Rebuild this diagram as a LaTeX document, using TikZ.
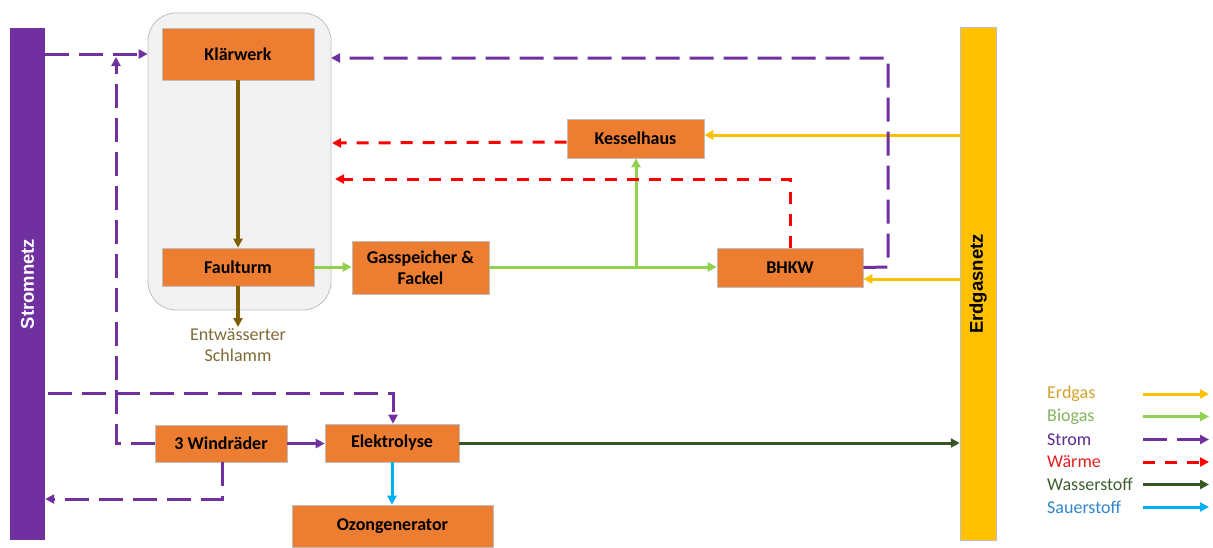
\documentclass[tikz,border=0pt]{standalone}
\usepackage{fontspec}
\setmainfont{Carlito}
\newfontfamily\arialb{Liberation Sans}
\usetikzlibrary{arrows.meta,calc}
\definecolor{boxor}{HTML}{ED7D31}
\definecolor{strompurple}{HTML}{7030A0}
\definecolor{gasyellow}{HTML}{FFC000}
\definecolor{biogreen}{HTML}{92D050}
\definecolor{heatred}{HTML}{FF0000}
\definecolor{hydrogreen}{HTML}{375623}
\definecolor{oxblue}{HTML}{00B0F0}
\definecolor{sludge}{HTML}{7F6000}
\definecolor{sludgetxt}{HTML}{7F6A35}
\definecolor{greyfill}{HTML}{F2F2F2}
\definecolor{greyline}{HTML}{BFBFBF}
\definecolor{lgErdgas}{HTML}{D4A12A}
\definecolor{lgBiogas}{HTML}{83B35C}
\definecolor{lgStrom}{HTML}{5E2B8C}
\definecolor{lgWaerme}{HTML}{E0201E}
\definecolor{lgWasser}{HTML}{3E5F30}
\definecolor{lgSauer}{HTML}{2E86D0}
\tikzset{
  procbox/.style={draw=greyline, line width=0.6pt, fill=boxor, inner sep=0pt,
    font=\fontsize{18}{21}\selectfont\bfseries, align=center},
  tip/.style={-{Triangle[length=9pt,width=9pt]}},
  stromline/.style={draw=strompurple, line width=3pt, dash pattern=on 24pt off 10pt, tip},
  stromsolid/.style={draw=strompurple, line width=3pt, tip},
  waermeline/.style={draw=heatred, line width=3pt, dash pattern=on 12pt off 10pt, tip},
  erdgasline/.style={draw=gasyellow, line width=3pt, tip},
  biogasline/.style={draw=biogreen, line width=3pt, tip},
  wasserline/.style={draw=hydrogreen, line width=3pt, tip},
  sauerline/.style={draw=oxblue, line width=3pt, tip},
  sludgeline/.style={draw=sludge, line width=3.5pt, tip},
  legtext/.style={anchor=west, inner sep=0pt, font=\fontsize{18}{21}\selectfont},
}
\begin{document}
\begin{tikzpicture}[x=1pt,y=-1pt]
\useasboundingbox (0,0) rectangle (1213,547);
% grey background box
\node[draw=greyline, line width=0.8pt, fill=greyfill, rounded corners=28pt,
  minimum width=183pt, minimum height=297pt] (grey) at (239.5,161.5) {};
% bars
\node[fill=strompurple, minimum width=35pt, minimum height=512pt, inner sep=0pt] (strom) at (27.5,284) {};
\node[rotate=90, text=white, font=\arialb\fontsize{18.5}{21}\selectfont\bfseries] at (27.5,284) {Stromnetz};
\node[fill=gasyellow, draw=greyline, line width=0.5pt, minimum width=36pt, minimum height=513pt, inner sep=0pt] (erdgas) at (978,283.5) {};
\node[rotate=90, text=black, font=\arialb\fontsize{18.5}{21}\selectfont\bfseries] at (978,284) {Erdgasnetz};
% process boxes
\node[procbox, minimum width=152pt, minimum height=52pt] (klw) at (238,54) {Klärwerk};
\node[procbox, minimum width=152pt, minimum height=38pt] (fault) at (238,267) {Faulturm};
\node[procbox, minimum width=137pt, minimum height=53pt] (gas) at (420.5,267.5) {Gasspeicher \&\\Fackel};
\node[procbox, minimum width=137pt, minimum height=39pt] (kessel) at (635.5,138.5) {Kesselhaus};
\node[procbox, minimum width=146pt, minimum height=39pt] (bhkw) at (790,267.5) {BHKW};
\node[procbox, minimum width=132pt, minimum height=37pt] (wind) at (221,443.5) {3 Windräder};
\node[procbox, minimum width=134pt, minimum height=38pt] (elek) at (392,443) {Elektrolyse};
\node[procbox, minimum width=201pt, minimum height=42pt] (ozon) at (392.5,526) {Ozongenerator};
% sludge
\coordinate (sludgeend) at (238,327);
\node[font=\fontsize{18}{21}\selectfont, text=sludgetxt, align=center, anchor=north, inner sep=0pt] (schlamm) at (238,328) {Entwässerter\\Schlamm};
\draw[sludgeline] (klw.south) -- (fault.north);
\draw[sludgeline] (fault.south) -- (sludgeend);
% biogas
\coordinate (branch) at (636,267);
\draw[biogasline] (fault.east) -- (gas.west |- fault.east);
\draw[biogasline] (gas.east |- branch) -- (bhkw.west |- branch);
\draw[biogasline] (branch) -- (kessel.south -| branch);
% erdgas
\draw[erdgasline] ([yshift=3.5pt]erdgas.west |- kessel.east) -- ([yshift=3.5pt]kessel.east);
\draw[erdgasline] ([yshift=-11.5pt]erdgas.west |- bhkw.east) -- ([yshift=-11.5pt]bhkw.east);
% waerme
\coordinate (wk) at (332,143);
\coordinate (wb1) at (790,179);
\coordinate (wb2) at (335,179);
\draw[waermeline] ([yshift=-3.5pt]kessel.west) -- (wk);
\draw[waermeline] (bhkw.north) -- (wb1) -- (wb2);
% strom
\coordinate (sb1) at (888,267);
\coordinate (sb2) at (888,58);
\coordinate (sb3) at (331,58);
\draw[stromline] (bhkw.east) -- (sb1) -- (sb2) -- (sb3);
\draw[stromline] (strom.east |- 0,54) -- (grey.west |- 0,54);
\coordinate (sw1) at (116,443.5);
\coordinate (sw2) at (116,57);
\draw[stromline] (wind.west) -- (sw1) -- (sw2);
\coordinate (se1) at (48,393);
\coordinate (se2) at (393,393);
\draw[stromline] (se1) -- (se2) -- (elek.north -| se2);
\draw[stromsolid] (wind.east) -- (elek.west |- wind.east);
\coordinate (sr1) at (222,499);
\draw[stromline] (wind.south -| sr1) -- (sr1) -- (strom.east |- sr1);
% sauerstoff, wasserstoff
\draw[sauerline] (elek.south) -- (ozon.north -| elek.south);
\draw[wasserline] (elek.east) -- (erdgas.west |- elek.east);
% legend
\node[legtext, text=lgErdgas] (l1) at (1047,394) {Erdgas};
\node[legtext, text=lgBiogas] (l2) at (1047,416.5) {Biogas};
\node[legtext, text=lgStrom] (l3) at (1047,439.5) {Strom};
\node[legtext, text=lgWaerme] (l4) at (1047,462) {Wärme};
\node[legtext, text=lgWasser] (l5) at (1047,484.5) {Wasserstoff};
\node[legtext, text=lgSauer] (l6) at (1047,507) {Sauerstoff};
\foreach \n/\st in {1/erdgasline,2/biogasline,3/stromline,4/waermeline,5/wasserline,6/sauerline}{
  \coordinate (la\n) at (1143,0);
  \coordinate (lb\n) at (1209,0);
  \draw[\st] (la\n |- l\n.west) -- (lb\n |- l\n.west);
}
\end{tikzpicture}
\end{document}
